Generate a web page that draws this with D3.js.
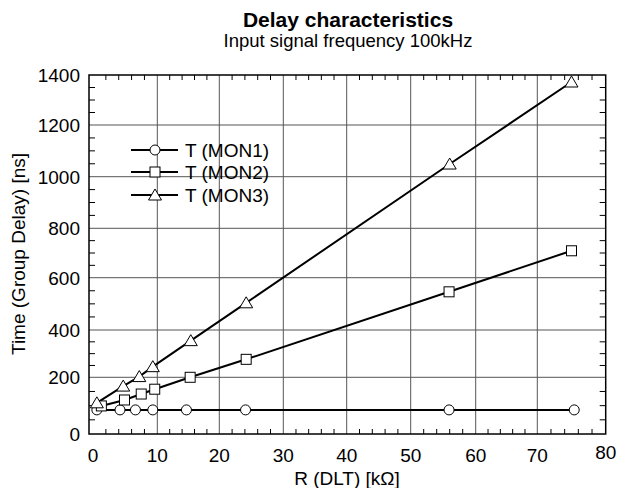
<!DOCTYPE html>
<meta charset="utf-8">
<style>
    body { margin: 0; background: white; }
    text { font-family: "Liberation Sans", Arial, sans-serif; fill: black; }
</style>
<body>
    <script src="https://d3js.org/d3.v7.min.js"></script>
    <script>
        var width = 618,
            height = 488;

        // data
        var xMon1 = [0.6, 4.2, 6.6, 9.3, 14.7, 24.1, 55.9, 75.4];
        var yMon1 = [85, 85, 85, 85, 85, 85, 85, 85];
        var xMon2 = [1.3, 4.9, 7.5, 9.6, 15.3, 24.2, 55.9, 75];
        var yMon2 = [99, 120, 141, 158, 200, 276, 546, 709];
        var xMon3 = [0.6, 4.7, 7.2, 9.3, 15.4, 24.2, 56, 75];
        var yMon3 = [110, 169, 203, 245, 355, 504, 1049, 1372];
        var seriesNames = ["T (MON1)", "T (MON2)", "T (MON3)"];
        var xTicks = [0, 10, 20, 30, 40, 50, 60, 70, 80];
        var yTicks = [0, 200, 400, 600, 800, 1000, 1200, 1400];

        var svg = d3.select("body").append("svg")
            .attr("width", width)
            .attr("height", height);

        // the scanned original is not quite even, so the scales follow its grid
        var x = d3.scaleLinear()
            .domain([-0.6, 0, 10, 20, 30, 40, 50, 60, 70, 80])
            .range([89, 93, 157.3, 219.3, 283.3, 346.7, 410.7, 475.7, 537.3, 605.7]);
        var y = d3.scaleLinear()
            .domain(yTicks)
            .range([434, 377.3, 330, 277.7, 228.3, 176.7, 125, 75]);

        var pLeft = x(-0.6), pRight = x(80), pTop = y(1400), pBottom = y(0);

        // grid
        var grid = svg.append("g").attr("stroke", "#555").attr("stroke-width", 1);
        grid.selectAll(".gx").data(xTicks.slice(1, -1)).enter().append("line")
            .attr("x1", d => x(d)).attr("x2", d => x(d))
            .attr("y1", pTop).attr("y2", pBottom);
        grid.selectAll(".gy").data(yTicks.slice(1, -1)).enter().append("line")
            .attr("x1", pLeft).attr("x2", pRight)
            .attr("y1", d => y(d)).attr("y2", d => y(d));

        // minor ticks
        var minorX = d3.range(2, 80, 2).filter(d => d % 10 != 0);
        var minorY = d3.range(50, 1400, 50).filter(d => d % 200 != 0);
        var ticks = svg.append("g").attr("stroke", "black").attr("stroke-width", 1);
        minorX.forEach(function(d) {
            ticks.append("line").attr("x1", x(d)).attr("x2", x(d)).attr("y1", pBottom).attr("y2", pBottom - 5);
            ticks.append("line").attr("x1", x(d)).attr("x2", x(d)).attr("y1", pTop).attr("y2", pTop + 5);
        });
        minorY.forEach(function(d) {
            ticks.append("line").attr("x1", pLeft).attr("x2", pLeft + 6).attr("y1", y(d)).attr("y2", y(d));
            ticks.append("line").attr("x1", pRight).attr("x2", pRight - 6).attr("y1", y(d)).attr("y2", y(d));
        });

        // frame
        svg.append("rect")
            .attr("x", pLeft).attr("y", pTop)
            .attr("width", pRight - pLeft).attr("height", pBottom - pTop)
            .attr("fill", "none").attr("stroke", "black").attr("stroke-width", 1.5);

        // tick labels
        svg.selectAll(".xl").data(xTicks).enter().append("text")
            .attr("x", d => x(d)).attr("y", d => d == 80 ? 459 : 462)
            .attr("text-anchor", "middle")
            .style("font-size", "19px")
            .text(d => d);
        svg.selectAll(".yl").data(yTicks).enter().append("text")
            .attr("x", 80).attr("y", d => y(d) + 7)
            .attr("text-anchor", "end")
            .style("font-size", "19px")
            .text(d => d);

        // axis titles
        svg.append("text")
            .attr("x", 347).attr("y", 485)
            .attr("text-anchor", "middle")
            .style("font-size", "19px")
            .text("R (DLT) [kΩ]");
        svg.append("text")
            .attr("transform", "translate(25,254) rotate(-90)")
            .attr("text-anchor", "middle")
            .style("font-size", "19px")
            .text("Time (Group Delay) [ns]");

        // titles
        svg.append("text")
            .attr("x", 348).attr("y", 27)
            .attr("text-anchor", "middle")
            .style("font-size", "21px").style("font-weight", "bold")
            .text("Delay characteristics");
        svg.append("text")
            .attr("x", 348).attr("y", 47)
            .attr("text-anchor", "middle")
            .style("font-size", "18.5px")
            .text("Input signal frequency 100kHz");

        // markers
        function marker(g, kind, cx, cy) {
            if (kind == 0) {
                g.append("circle").attr("cx", cx).attr("cy", cy).attr("r", 5);
            } else if (kind == 1) {
                g.append("rect").attr("x", cx - 5).attr("y", cy - 5).attr("width", 10).attr("height", 10);
            } else {
                g.append("path").attr("d", "M" + cx + "," + (cy - 6) + "L" + (cx + 6.5) + "," + (cy + 5) + "L" + (cx - 6.5) + "," + (cy + 5) + "Z");
            }
        }

        var series = [
            xMon1.map((d, i) => [d, yMon1[i]]),
            xMon2.map((d, i) => [d, yMon2[i]]),
            xMon3.map((d, i) => [d, yMon3[i]])
        ];
        var line = d3.line().x(d => x(d[0])).y(d => y(d[1]));

        series.forEach(function(s, k) {
            svg.append("path")
                .attr("d", line(s))
                .attr("fill", "none").attr("stroke", "black").attr("stroke-width", 2);
        });
        series.forEach(function(s, k) {
            var g = svg.append("g").attr("fill", "white").attr("stroke", "black").attr("stroke-width", 1);
            s.forEach(d => marker(g, k, x(d[0]), y(d[1])));
        });

        // legend
        var legendY = [150, 172, 195];
        seriesNames.forEach(function(name, k) {
            var lg = svg.append("g");
            lg.append("line").attr("x1", 131).attr("x2", 178)
                .attr("y1", legendY[k]).attr("y2", legendY[k])
                .attr("stroke", "black").attr("stroke-width", 2);
            var mg = lg.append("g").attr("fill", "white").attr("stroke", "black").attr("stroke-width", 1);
            marker(mg, k, 155, legendY[k]);
            lg.append("text").attr("x", 185).attr("y", legendY[k] + 7)
                .style("font-size", "19px")
                .text(name);
        });
    </script>
</body>
</html>
